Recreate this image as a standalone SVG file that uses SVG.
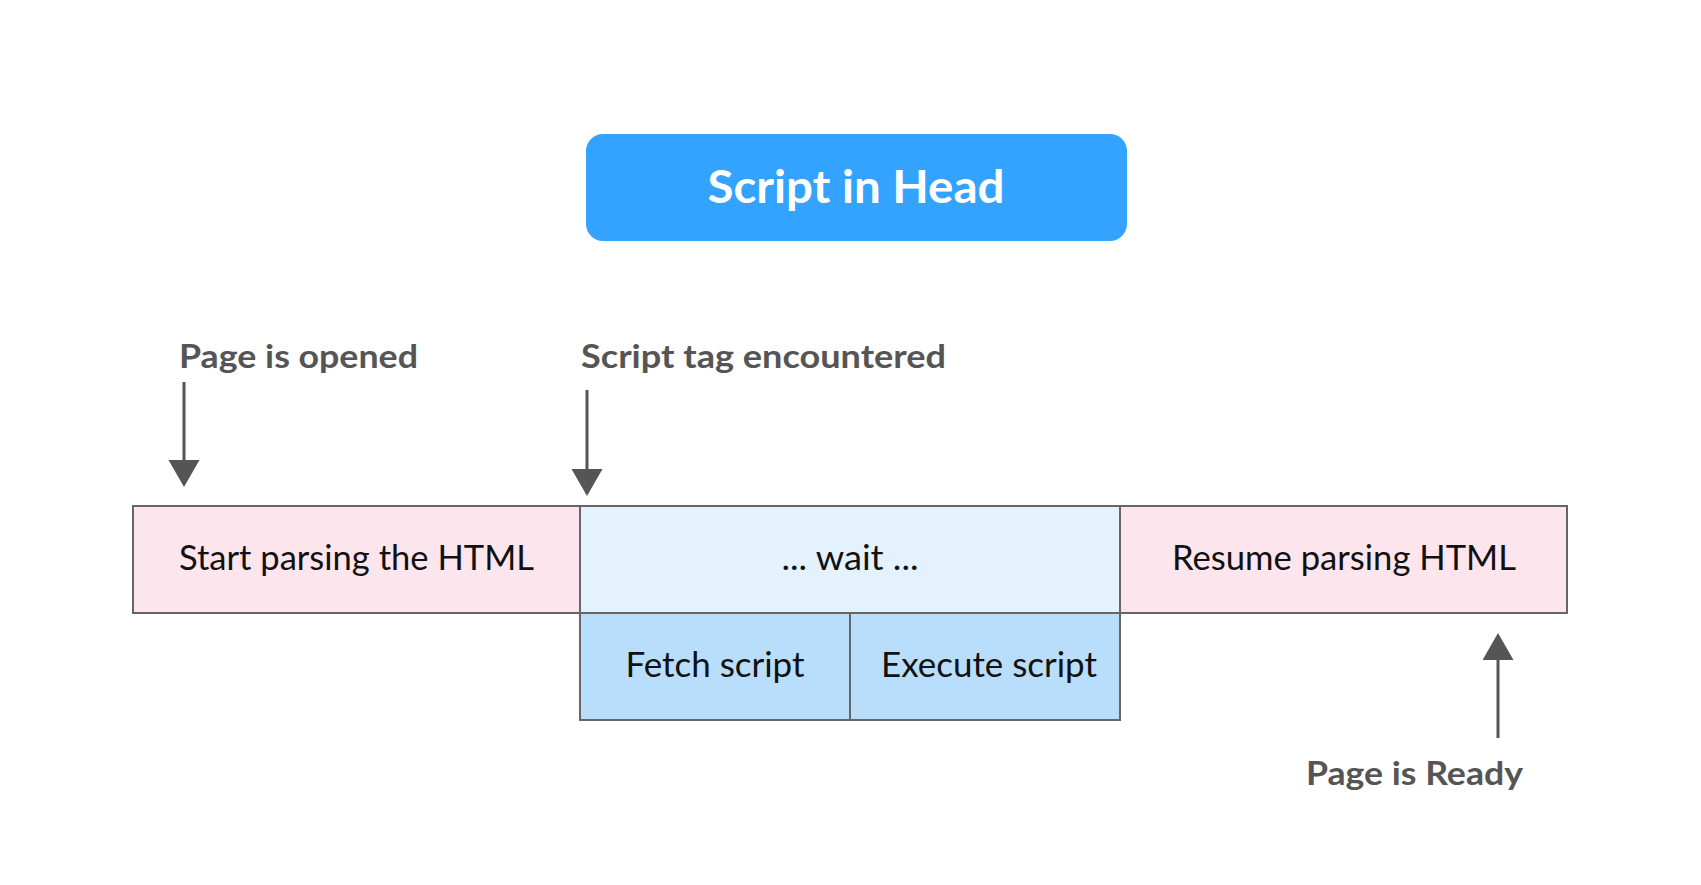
<svg xmlns="http://www.w3.org/2000/svg" width="1701" height="885" viewBox="0 0 1701 885">
  <style>
    .title { font-family: "Lato", "Liberation Sans", sans-serif; font-weight: 700; font-size: 46px; fill: #ffffff; }
    .label { font-family: "Lato", "Liberation Sans", sans-serif; font-weight: 700; font-size: 33px; fill: #555555; }
    .step  { font-family: "Lato", "Liberation Sans", sans-serif; font-weight: 400; font-size: 34px; fill: #111111; }
    .box   { stroke: #666666; stroke-width: 2; }
    .parse { fill: #fde5ee; }
    .wait  { fill: #e4f2fe; }
    .task  { fill: #b8defc; }
    .conn  { stroke: #555555; stroke-width: 3; fill: none; marker-end: url(#head); }
  </style>
  <defs>
    <marker id="head" markerUnits="userSpaceOnUse" markerWidth="28" markerHeight="32" refX="0" refY="15.5" orient="auto">
      <path d="M0,0 L27,15.5 L0,31 Z" fill="#555555"/>
    </marker>
  </defs>

  <rect width="1701" height="885" fill="#ffffff"/>

  <!-- heading -->
  <g id="title">
    <rect x="586" y="134" width="541" height="107" rx="17" fill="#33a3ff"/>
    <text class="title" x="856" y="203" text-anchor="middle" textLength="297" lengthAdjust="spacingAndGlyphs">Script in Head</text>
  </g>

  <!-- annotations -->
  <g id="label-opened">
    <text class="label" x="179" y="368" textLength="239" lengthAdjust="spacingAndGlyphs">Page is opened</text>
  </g>
  <g id="label-script-tag">
    <text class="label" x="581" y="368" textLength="365" lengthAdjust="spacingAndGlyphs">Script tag encountered</text>
  </g>
  <g id="label-ready">
    <text class="label" x="1306" y="785" textLength="217" lengthAdjust="spacingAndGlyphs">Page is Ready</text>
  </g>

  <!-- timeline, top row -->
  <g id="start-parsing">
    <rect class="box parse" x="133" y="506" width="447" height="107"/>
    <text class="step" x="356.5" y="570" text-anchor="middle" textLength="355" lengthAdjust="spacingAndGlyphs">Start parsing the HTML</text>
  </g>
  <g id="wait">
    <rect class="box wait" x="580" y="506" width="540" height="107"/>
    <text class="step" x="850" y="570" text-anchor="middle" textLength="137" lengthAdjust="spacingAndGlyphs">... wait ...</text>
  </g>
  <g id="resume-parsing">
    <rect class="box parse" x="1120" y="506" width="447" height="107"/>
    <text class="step" x="1344" y="570" text-anchor="middle" textLength="344" lengthAdjust="spacingAndGlyphs">Resume parsing HTML</text>
  </g>

  <!-- timeline, bottom row -->
  <g id="fetch-script">
    <rect class="box task" x="580" y="613" width="270" height="107"/>
    <text class="step" x="715" y="677" text-anchor="middle" textLength="179" lengthAdjust="spacingAndGlyphs">Fetch script</text>
  </g>
  <g id="execute-script">
    <rect class="box task" x="850" y="613" width="270" height="107"/>
    <text class="step" x="989" y="677" text-anchor="middle" textLength="216" lengthAdjust="spacingAndGlyphs">Execute script</text>
  </g>

  <!-- arrows -->
  <g id="connectors">
    <line class="conn" x1="184" y1="382" x2="184" y2="460"/>
    <line class="conn" x1="587" y1="390" x2="587" y2="469"/>
    <line class="conn" x1="1498" y1="738" x2="1498" y2="660"/>
  </g>
</svg>
